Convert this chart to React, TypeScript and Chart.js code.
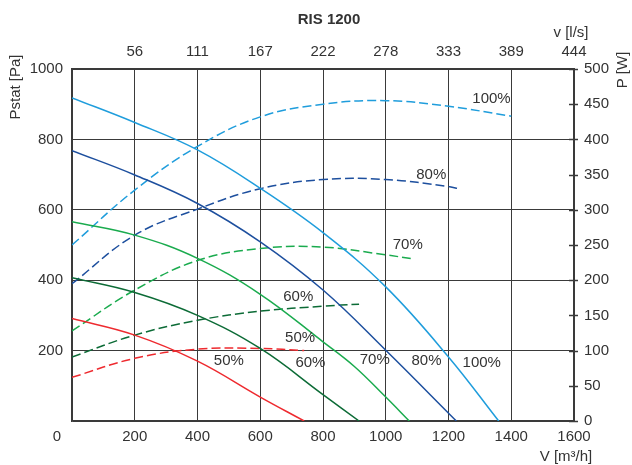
import React, { useEffect, useRef } from 'react';
import { Chart, registerables } from 'chart.js';

Chart.register(...registerables);

// ---- Data: static pressure (Pa) vs airflow (m³/h) ----
const flow100 = [0, 200, 400, 600, 800, 1000, 1200, 1360];
const pres100 = [918, 848, 770, 661, 535, 381, 182, 0];
const flow80 = [0, 200, 400, 600, 800, 1000, 1225];
const pres80 = [768, 699, 618, 509, 372, 201, 0];
const flow70 = [0, 200, 400, 600, 800, 900, 1000, 1075];
const pres70 = [566, 528, 462, 360, 225, 155, 68, 0];
const flow60 = [0, 200, 400, 600, 800, 915];
const pres60 = [407, 365, 300, 206, 75, 0];
const flow50 = [0, 200, 400, 600, 740];
const pres50 = [291, 244, 170, 68, 0];

// ---- Data: power (W) vs airflow (m³/h) ----
const powFlow100 = [0, 200, 400, 600, 800, 1000, 1200, 1400];
const pow100 = [250, 328, 390, 432, 450, 455, 447, 433];
const powFlow80 = [0, 200, 400, 600, 800, 1000, 1200, 1240];
const pow80 = [195, 264, 301, 330, 343, 343, 333, 329];
const powFlow70 = [0, 200, 400, 600, 800, 1000, 1090];
const pow70 = [128, 186, 228, 245, 247, 236, 230];
const powFlow60 = [0, 200, 400, 600, 800, 915];
const pow60 = [91, 122, 143, 156, 163, 166];
const powFlow50 = [0, 200, 400, 600, 740];
const pow50 = [62, 89, 102, 103, 100];

// ---- Axis ticks ----
const xTicksStep = 200;
const yTicksStep = 200;
const y2TicksStep = 50;
const M3H_PER_LS = 3.6;

// ---- Curve labels (in data coordinates: V m³/h, Pstat Pa) ----
const labelText = ['100%', '80%', '70%', '60%', '50%', '50%', '60%', '70%', '80%', '100%'];
const labelV = [1337, 1145, 1070, 721, 727, 500, 760, 965, 1130, 1306];
const labelP = [914, 700, 500, 352, 236, 170, 164, 173, 170, 164];

const FONT = '"Liberation Sans", Arial, Helvetica, sans-serif';
const TEXT = '#333333';
const GRID = '#3a3a3a';

const C100 = '#1f9ddc';
const C80 = '#1d4f9e';
const C70 = '#1aab4e';
const C60 = '#0c6b36';
const C50 = '#ee2a2f';

const pts = (xs: number[], ys: number[]) => xs.map((x, i) => ({ x, y: ys[i] }));

export default function App() {
  const ref = useRef<HTMLCanvasElement>(null);

  useEffect(() => {
    document.body.style.margin = '0';
    const canvas = ref.current;
    if (!canvas) return;

    const solid = (data: any, color: string) => ({
      data,
      borderColor: color,
      backgroundColor: color,
      borderWidth: 1.5,
      pointRadius: 0,
      tension: 0.4,
      yAxisID: 'y',
      xAxisID: 'x',
    });
    const dashed = (data: any, color: string) => ({
      data,
      borderColor: color,
      backgroundColor: color,
      borderWidth: 1.5,
      borderDash: [9, 4],
      pointRadius: 0,
      tension: 0.4,
      yAxisID: 'y2',
      xAxisID: 'x',
    });

    const textPlugin = {
      id: 'texts',
      afterDraw(chart: any) {
        const c = chart.ctx;
        const area = chart.chartArea;
        const sx = chart.scales.x;
        const sy = chart.scales.y;
        const sy2 = chart.scales.y2;
        c.save();
        // right-axis tick marks crossing the axis
        c.strokeStyle = GRID;
        c.lineWidth = 1.5;
        sy2.ticks.forEach((t: any) => {
          const yy = Math.round(sy2.getPixelForValue(t.value)) + 0.5;
          c.beginPath();
          c.moveTo(area.right - 5, yy);
          c.lineTo(area.right + 4, yy);
          c.stroke();
        });

        c.fillStyle = TEXT;
        c.textBaseline = 'middle';
        // title
        c.font = `bold 15px ${FONT}`;
        c.textAlign = 'center';
        c.fillText('RIS 1200', 329, 20);
        // axis titles
        c.font = `15px ${FONT}`;
        c.fillText('v [l/s]', 571, 33);
        c.fillText('V [m³/h]', 566, 457);
        // origin label of the bottom axis (drawn left of the axis as in the original)
        c.fillText('0', sx.getPixelForValue(0) - 15, area.bottom + 16);
        c.save();
        c.translate(16, 87);
        c.rotate(-Math.PI / 2);
        c.fillText('Pstat [Pa]', 0, 0);
        c.restore();
        c.save();
        c.translate(623, 70);
        c.rotate(-Math.PI / 2);
        c.fillText('P [W]', 0, 0);
        c.restore();
        // curve labels
        labelText.forEach((t, i) => {
          c.fillText(t, sx.getPixelForValue(labelV[i]), sy.getPixelForValue(labelP[i]));
        });
        c.restore();
      },
    };

    const tickFont = { family: FONT, size: 15 };

    const chart = new Chart(canvas, {
      type: 'line',
      data: {
        datasets: [
          solid(pts(flow100, pres100), C100),
          solid(pts(flow80, pres80), C80),
          solid(pts(flow70, pres70), C70),
          solid(pts(flow60, pres60), C60),
          solid(pts(flow50, pres50), C50),
          dashed(pts(powFlow100, pow100), C100),
          dashed(pts(powFlow80, pow80), C80),
          dashed(pts(powFlow70, pow70), C70),
          dashed(pts(powFlow60, pow60), C60),
          dashed(pts(powFlow50, pow50), C50),
        ] as any,
      },
      options: {
        animation: false,
        responsive: false,
        layout: { padding: 0 },
        plugins: { legend: { display: false }, tooltip: { enabled: false }, title: { display: false } },
        scales: {
          x: {
            type: 'linear',
            position: 'bottom',
            min: 0,
            max: 1600,
            ticks: {
              stepSize: xTicksStep,
              color: TEXT,
              font: tickFont,
              padding: 7,
              maxRotation: 0,
              callback: (v: any) => (v === 0 ? '' : String(v)),
            },
            grid: { color: GRID, lineWidth: 1, drawTicks: false },
            border: { color: GRID, width: 1.5 },
            afterFit: (s: any) => { s.height = 44; },
          },
          x2: {
            type: 'linear',
            position: 'top',
            min: 0,
            max: 1600,
            ticks: {
              stepSize: xTicksStep,
              color: TEXT,
              font: tickFont,
              padding: 8,
              maxRotation: 0,
              callback: (v: any) => (v === 0 ? '' : String(Math.round(Number(v) / M3H_PER_LS))),
            },
            grid: { drawOnChartArea: false, drawTicks: false },
            border: { color: GRID, width: 1.5 },
            afterFit: (s: any) => { s.height = 69; },
          },
          y: {
            type: 'linear',
            position: 'left',
            min: 0,
            max: 1000,
            ticks: {
              stepSize: yTicksStep,
              color: TEXT,
              font: tickFont,
              padding: 9,
              callback: (v: any) => (v === 0 ? '' : String(v)),
            },
            grid: { color: GRID, lineWidth: 1, drawTicks: false },
            border: { color: GRID, width: 1.5 },
            afterFit: (s: any) => { s.width = 72; },
          },
          y2: {
            type: 'linear',
            position: 'right',
            min: 0,
            max: 500,
            ticks: { stepSize: y2TicksStep, color: TEXT, font: tickFont, padding: 10 },
            grid: { drawOnChartArea: false, drawTicks: false },
            border: { color: GRID, width: 1.5 },
            afterFit: (s: any) => { s.width = 58; },
          },
        },
      } as any,
      plugins: [textPlugin],
    });

    return () => chart.destroy();
  }, []);

  return (
    <div style={{ width: 632, height: 465 }}>
      <canvas ref={ref} width={632} height={465} style={{ display: 'block' }} />
    </div>
  );
}
